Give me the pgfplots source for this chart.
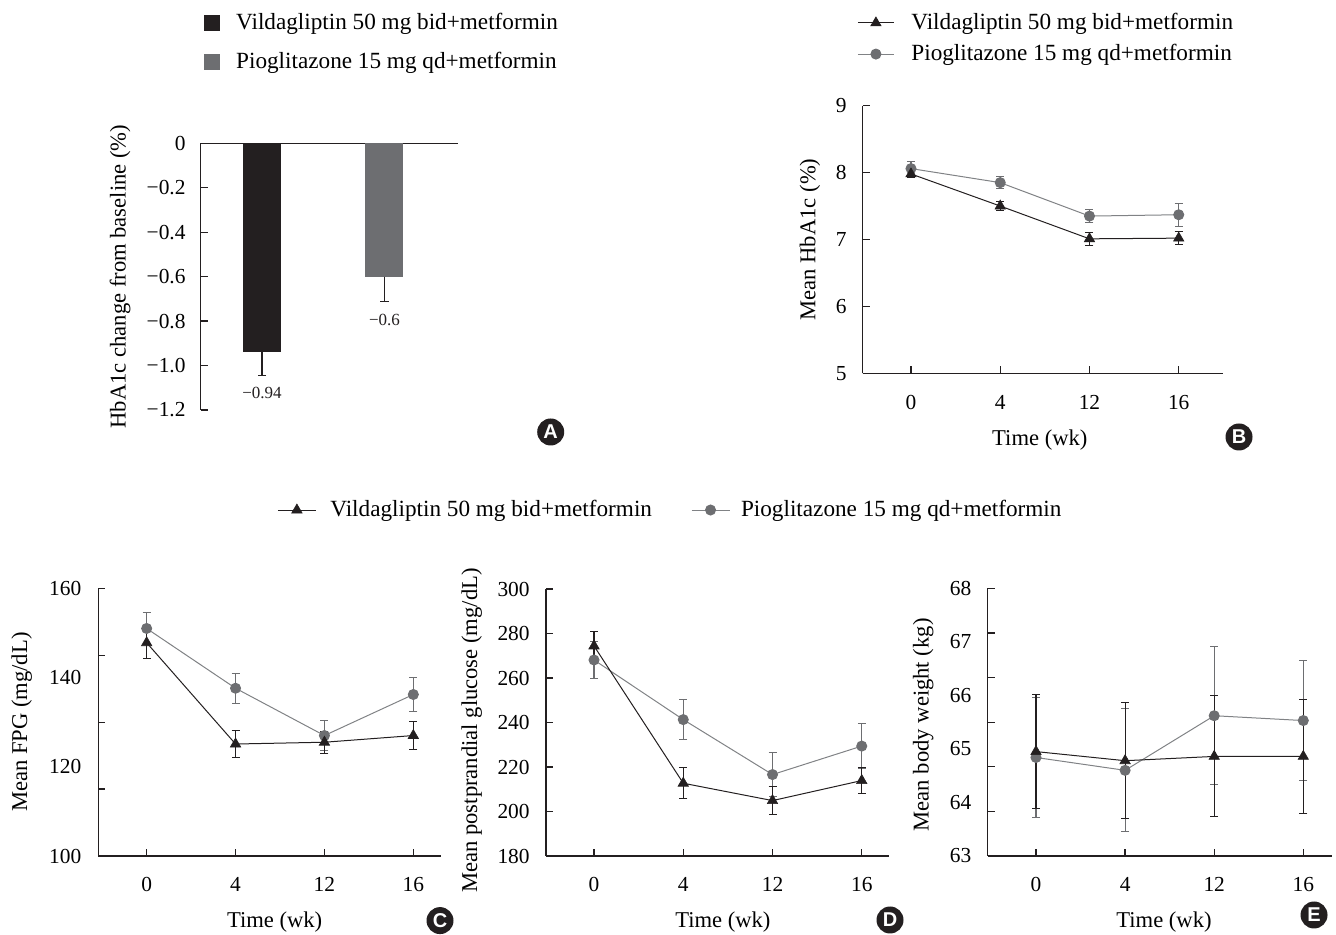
\documentclass[border=0pt]{standalone}
\usepackage{fontspec}
\setmainfont{Liberation Serif}
\newfontfamily\lettfont{Liberation Sans}
\usepackage{pgfplots}
\pgfplotsset{compat=1.18}
\definecolor{darkc}{HTML}{231F20}
\definecolor{grayc}{HTML}{6D6E71}
\definecolor{lgray}{HTML}{808285}
\begin{document}
\begin{tikzpicture}
\pgfplotsset{
  base/.style={
    scale only axis, anchor=south west, clip=false,
    font=\fontsize{11.3}{13.5}\selectfont,
    tick label style={font=\fontsize{10.7}{12.8}\selectfont},
    axis line style={darkc, line width=0.65pt},
    tick style={darkc, line width=0.65pt},
    major tick length=3.4pt,
    tick align=inside,
    yticklabel style={anchor=east, inner sep=0pt},
    ylabel style={anchor=center},
    legend cell align=left,
  },
  lineaxis/.style={base,
    axis x line*=bottom, axis y line*=left,
    xtick={0,1,2,3}, xticklabels={0,4,12,16},
    xticklabel style={anchor=center, inner sep=0pt, yshift=-14.4pt},
    xlabel={Time (wk)},
    xlabel style={at={(axis description cs:0.515,-0.248)}, anchor=center},
    legend image code/.code={\draw[mark repeat=2,mark phase=2,##1] plot coordinates {(0pt,0pt) (9pt,0pt) (18pt,0pt)};},
  },
  vilda/.style={darkc, line width=0.5pt, mark=triangle*, mark size=3pt, mark options={fill=darkc, draw=darkc, line width=0.3pt, solid}},
  pio/.style={lgray, line width=0.5pt, mark=*, mark size=2.5pt, mark options={fill=grayc, draw=grayc, solid}},
  ebv/.style={/pgfplots/error bars/y dir=both, /pgfplots/error bars/y explicit,
    /pgfplots/error bars/error bar style={darkc, line width=0.55pt},
    /pgfplots/error bars/error mark options={rotate=90, darkc, mark size=2pt, line width=0.55pt}},
  ebp/.style={/pgfplots/error bars/y dir=both, /pgfplots/error bars/y explicit,
    /pgfplots/error bars/error bar style={grayc, line width=0.55pt},
    /pgfplots/error bars/error mark options={rotate=90, grayc, mark size=2pt, line width=0.55pt}},
  legfont/.style={font=\fontsize{11.6}{13.9}\selectfont},
}

% ---------------- Panel A ----------------
\begin{axis}[base, at={(100.35pt,262.5pt)}, width=128.65pt, height=133.35pt,
  xmin=0.5, xmax=2.6, ymin=-1.2, ymax=0,
  axis x line*=top, axis y line*=left, xtick=\empty,
  ytick={-1.2,-1,-0.8,-0.6,-0.4,-0.2,0},
  yticklabels={−1.2,−1.0,−0.8,−0.6,−0.4,−0.2,0},
  yticklabel style={xshift=-7.4pt},
  ylabel={HbA1c change from baseline (\%)},
  ylabel style={at={(axis description cs:-0.3136,0.5)}},
  legend style={at={(axis description cs:0.0128,1.378)}, anchor=west, draw=none, fill=none,
    inner sep=0pt, column sep=8pt, row sep=9.9pt, nodes={inner sep=0pt}, legfont},
]
\addlegendimage{legend image code/.code={\fill[darkc] (0pt,-3.75pt) rectangle (7.5pt,3.75pt);}}
\addlegendentry{Vildagliptin 50 mg bid+metformin}
\addlegendimage{legend image code/.code={\fill[grayc] (0pt,-3.75pt) rectangle (7.5pt,3.75pt);}}
\addlegendentry{Pioglitazone 15 mg qd+metformin}
\addplot[ybar, bar width=19pt, bar shift=0pt, fill=darkc, draw=none, forget plot,
  error bars/.cd, y dir=minus, y explicit, error bar style={darkc, line width=0.55pt},
  error mark options={rotate=90, darkc, mark size=2.1pt, line width=0.55pt}]
  coordinates {(1,-0.94) +- (0,0.106)};
\addplot[ybar, bar width=19pt, bar shift=0pt, fill=grayc, draw=none, forget plot,
  error bars/.cd, y dir=minus, y explicit, error bar style={darkc, line width=0.55pt},
  error mark options={rotate=90, darkc, mark size=2.1pt, line width=0.55pt}]
  coordinates {(2,-0.6) +- (0,0.113)};
\node[font=\fontsize{8.5}{10}\selectfont, text=darkc] at (axis cs:1,-1.124) {−0.94};
\node[font=\fontsize{8.5}{10}\selectfont, text=darkc] at (axis cs:2,-0.795) {−0.6};
\end{axis}

% ---------------- Panel B ----------------
\begin{axis}[lineaxis, at={(431.35pt,280.85pt)}, width=180pt, height=133.8pt,
  xmin=-0.541, xmax=3.493, ymin=5, ymax=9,
  ytick={5,6,7,8,9}, yticklabels={5,6,7,8,9},
  yticklabel style={xshift=-7.85pt},
  xlabel style={at={(axis description cs:0.492,-0.2493)}},
  ylabel={Mean HbA1c (\%)},
  ylabel style={at={(axis description cs:-0.1464,0.5)}},
  legend style={at={(axis description cs:-0.0158,1.2511)}, anchor=west, draw=none, fill=none,
    inner sep=0pt, column sep=8.5pt, row sep=5.9pt, nodes={inner sep=0pt}, legfont},
]
\addlegendimage{vilda}
\addlegendentry{Vildagliptin 50 mg bid+metformin}
\addlegendimage{pio}
\addlegendentry{Pioglitazone 15 mg qd+metformin}
\addplot[pio, ebp, forget plot] coordinates {
  (0,8.06) +- (0,0.10) (1,7.85) +- (0,0.09) (2,7.35) +- (0,0.10) (3,7.37) +- (0,0.17)};
\addplot[vilda, ebv, forget plot] coordinates {
  (0,7.98) +- (0,0.05) (1,7.50) +- (0,0.07) (2,7.01) +- (0,0.10) (3,7.02) +- (0,0.10)};
\end{axis}

% ---------------- Panel C ----------------
\begin{axis}[lineaxis, at={(49.15pt,39.5pt)}, width=171.2pt, height=133.85pt,
  xmin=-0.544, xmax=3.308, ymin=100, ymax=160,
  ytick={100,115,130,145,160}, yticklabels={,,,,,},
  extra y ticks={100,120,140,160}, extra y tick labels={100,120,140,160},
  extra y tick style={major tick length=0pt},
  yticklabel style={xshift=-8.3pt},
  ylabel={Mean FPG (mg/dL)},
  ylabel style={at={(axis description cs:-0.2237,0.5)}},
  legend columns=2,
  legend style={at={(axis description cs:0.5219,1.2925)}, anchor=west, draw=none, fill=none,
    inner sep=0pt, column sep=7pt, nodes={inner sep=0pt}, legfont},
  legend image code/.code={\draw[mark repeat=2,mark phase=2,#1] plot coordinates {(0pt,0pt) (9.5pt,0pt) (19pt,0pt)};},
]
\addlegendimage{vilda}
\addlegendentry{Vildagliptin 50 mg bid+metformin\hspace{12.5pt}\mbox{}}
\addlegendimage{pio}
\addlegendentry{\mbox{}\hspace{-1.5pt}Pioglitazone 15 mg qd+metformin}
\addplot[pio, ebp, forget plot] coordinates {
  (0,151.0) +- (0,3.5) (1,137.6) +- (0,3.4) (2,127.0) +- (0,3.4) (3,136.2) +- (0,3.9)};
\addplot[vilda, ebv, forget plot] coordinates {
  (0,147.8) +- (0,3.6) (1,125.1) +- (0,3.0) (2,125.5) +- (0,2.5) (3,127.0) +- (0,3.1)};
\end{axis}

% ---------------- Panel D ----------------
\begin{axis}[lineaxis, at={(273pt,39.5pt)}, width=171.7pt, height=133.5pt,
  xmin=-0.538, xmax=3.31, ymin=180, ymax=300,
  ytick={180,200,220,240,260,280,300}, yticklabels={180,200,220,240,260,280,300},
  yticklabel style={xshift=-8pt},
  ylabel={Mean postprandial glucose (mg/dL)},
  ylabel style={at={(axis description cs:-0.2164,0.47)}},
]
\addplot[pio, ebp] coordinates {
  (0,268.1) +- (0,8.2) (1,241.3) +- (0,9.0) (2,216.6) +- (0,9.9) (3,229.4) +- (0,10.0)};
\addplot[vilda, ebv] coordinates {
  (0,274.4) +- (0,6.4) (1,212.7) +- (0,7.0) (2,204.9) +- (0,6.4) (3,213.9) +- (0,6.0)};
\end{axis}

% ---------------- Panel E ----------------
\begin{axis}[lineaxis, at={(493.85pt,39.5pt)}, width=172pt, height=133.85pt,
  xmin=-0.542, xmax=3.319, ymin=63, ymax=68,
  ytick={63,63.8333,64.6667,65.5,66.3333,67.1667,68}, yticklabels={,,,,,,,},
  extra y ticks={63,64,65,66,67,68}, extra y tick labels={63,64,65,66,67,68},
  extra y tick style={major tick length=0pt},
  yticklabel style={xshift=-8pt},
  xlabel style={at={(axis description cs:0.5125,-0.248)}},
  ylabel={Mean body weight (kg)},
  ylabel style={at={(axis description cs:-0.1872,0.49)}},
]
\addplot[pio, ebp] coordinates {
  (0,64.84) +- (0,1.12) (1,64.60) +- (0,1.15) (2,65.62) +- (0,1.29) (3,65.53) +- (0,1.12)};
\addplot[vilda, ebv] coordinates {
  (0,64.95) +- (0,1.06) (1,64.78) +- (0,1.08) (2,64.86) +- (0,1.13) (3,64.86) +- (0,1.06)};
\end{axis}

% ---------------- panel letters ----------------
\tikzset{plab/.style={circle, fill=darkc, minimum size=13.5pt, inner sep=0pt, text=white,
  font=\lettfont\bfseries\fontsize{10}{10}\selectfont}}
\node[plab] at (275.35pt,251.5pt) {A};
\node[plab] at (619.5pt,249pt) {B};
\node[plab] at (220pt,7.2pt) {C};
\node[plab] at (445pt,7.5pt) {D};
\node[plab] at (657pt,10pt) {E};

\pgfresetboundingbox
\path (0,0) rectangle (668pt,467.5pt);
\end{tikzpicture}
\end{document}
